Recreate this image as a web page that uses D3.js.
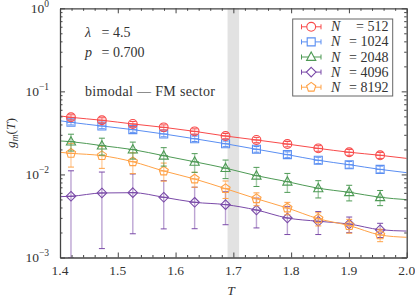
<!DOCTYPE html>
<meta charset="utf-8">
<style>
body { margin: 0; background: #fff; }
svg text { font-family: "Liberation Serif", "DejaVu Serif", serif; fill: #333; }
.axis line, .axis path { stroke: #444; }
</style>
<svg width="415" height="299"></svg>
<script src="https://cdn.jsdelivr.net/npm/d3@7"></script>
<script>
// temperatures of the simulated points
var temps = [1.419, 1.4725, 1.526, 1.5795, 1.633, 1.6865, 1.74, 1.7935, 1.847, 1.9005, 1.954];
var sizes = [512, 1024, 2048, 4096, 8192];

// g_m(T) per system size
var g512  = [0.0487, 0.0449, 0.0405, 0.0369, 0.0330, 0.0290, 0.0260, 0.0232, 0.0206, 0.0185, 0.0170];
var g1024 = [0.0424, 0.0383, 0.0346, 0.0307, 0.0269, 0.0234, 0.0201, 0.0173, 0.0148, 0.0131, 0.0115];
var g2048 = [0.0248, 0.0222, 0.0199, 0.0168, 0.0142, 0.0119, 0.00966, 0.00818, 0.00681, 0.00610, 0.00531];
var g4096 = [0.00546, 0.00598, 0.00603, 0.00531, 0.00462, 0.00433, 0.00373, 0.00299, 0.00273, 0.00253, 0.00216];
var g8192 = [0.01796, 0.01683, 0.01422, 0.01100, 0.00881, 0.00674, 0.00510, 0.00394, 0.00293, 0.00242, 0.00187];

// error bars
var e512  = [0.0035, 0.0032, 0.0029, 0.0026, 0.0024, 0.0021, 0.0019, 0.0017, 0.0016, 0.0015, 0.0014];
var e1024 = [0.0030, 0.0028, 0.0025, 0.0023, 0.0020, 0.0018, 0.0016, 0.0014, 0.0013, 0.0012, 0.0011];
var e2048 = [0.0057, 0.0051, 0.0046, 0.0042, 0.0036, 0.0030, 0.0025, 0.0021, 0.0016, 0.0013, 0.0011];
var e4096 = [0.0056, 0.0047, 0.0041, 0.0031, 0.0024, 0.00185, 0.00146, 0.0011, 0.00084, 0.00054, 0.00042];
var e8192 = [0.0057, 0.0050, 0.0040, 0.0027, 0.0018, 0.0016, 0.0009, 0.00067, 0.00053, 0.00046, 0.00032];

// fit curves at the plot edges (T = 1.4 and T = 2.0)
var fitLeft  = [0.0506, 0.0443, 0.0253, 0.0054, 0.01846];
var fitRight = [0.0156, 0.0105, 0.00497, 0.00208, 0.00175];

var colors = ["#f84a4a", "#5a8ef2", "#4e9a55", "#7a4aa8", "#ffa247"];
var shapes = ["circle", "square", "triangle", "diamond", "pentagon"];

var xTicks = [1.4, 1.5, 1.6, 1.7, 1.8, 1.9, 2.0];
var yTicks = [1, 0.1, 0.01, 0.001];
var yExps = ["0", "\u22121", "\u22122", "\u22123"];
var band = [1.69, 1.71];

var values = [g512, g1024, g2048, g4096, g8192];
var errors = [e512, e1024, e2048, e4096, e8192];

var svg = d3.select("svg");
var mLeft = 60, mRight = 406.7, mTop = 8.3, mBottom = 257.5;

var x = d3.scaleLinear().domain([1.4, 2.0]).range([mLeft, mRight]);
var y = d3.scaleLog().domain([1e-3, 1]).range([mBottom, mTop]).clamp(true);

svg.append("defs").append("clipPath").attr("id", "clip")
  .append("rect").attr("x", mLeft).attr("y", mTop).attr("width", mRight - mLeft).attr("height", mBottom - mTop);

// gray transition band
svg.append("rect")
    .attr("x", x(band[0])).attr("y", mTop)
    .attr("width", x(band[1]) - x(band[0])).attr("height", mBottom - mTop)
    .attr("fill", "#e2e2e2");

function marker(shape) {
  switch (shape) {
    case "circle": return "M4.4,0A4.4,4.4 0 1,1 -4.4,0A4.4,4.4 0 1,1 4.4,0Z";
    case "square": return "M-4,-4H4V4H-4Z";
    case "triangle": return "M0,-5L4.6,3.4H-4.6Z";
    case "diamond": return "M0,-4.8L4.8,0L0,4.8L-4.8,0Z";
    case "pentagon": return d3.range(5).map(function(i) {
        var a = -Math.PI / 2 + i * 2 * Math.PI / 5;
        return (i ? "L" : "M") + (4.8 * Math.cos(a)).toFixed(2) + "," + (4.8 * Math.sin(a)).toFixed(2);
      }).join("") + "Z";
  }
}

var line = d3.line()
    .x(function(d) { return x(d[0]); })
    .y(function(d) { return y(d[1]); })
    .curve(d3.curveMonotoneX);

var plot = svg.append("g").attr("clip-path", "url(#clip)");

// draw back to front so red ends on top
[3, 4, 2, 1, 0].forEach(function(s) {
  var pts = temps.map(function(t, i) { return [t, values[s][i], errors[s][i]]; });
  var g = plot.append("g");
  g.append("path")
      .attr("d", line([[1.4, fitLeft[s]]].concat(pts, [[2.0, fitRight[s]]])))
      .attr("fill", "none").attr("stroke", colors[s]).attr("stroke-width", 1);

  var eb = g.selectAll(".eb").data(pts).enter().append("g");
  eb.append("line")
      .attr("x1", function(d) { return x(d[0]); }).attr("x2", function(d) { return x(d[0]); })
      .attr("y1", function(d) { return y(Math.max(d[1] - d[2], 1e-4)); })
      .attr("y2", function(d) { return y(d[1] + d[2]); })
      .attr("stroke", colors[s]).attr("stroke-opacity", 0.5).attr("stroke-width", 1.4);
  [-1, 1].forEach(function(sg) {
    eb.append("line")
        .attr("x1", function(d) { return x(d[0]) - 3; }).attr("x2", function(d) { return x(d[0]) + 3; })
        .attr("y1", function(d) { return y(Math.max(d[1] + sg * d[2], 1e-4)); })
        .attr("y2", function(d) { return y(Math.max(d[1] + sg * d[2], 1e-4)); })
        .attr("stroke", colors[s]).attr("stroke-width", 1);
  });
  eb.append("line")
      .attr("x1", function(d) { return x(d[0]) - 4.4; }).attr("x2", function(d) { return x(d[0]) + 4.4; })
      .attr("y1", function(d) { return y(d[1]); }).attr("y2", function(d) { return y(d[1]); })
      .attr("stroke", colors[s]).attr("stroke-width", 1);
  eb.append("path")
      .attr("d", marker(shapes[s]))
      .attr("transform", function(d) { return "translate(" + x(d[0]) + "," + y(d[1]) + ")"; })
      .attr("fill", "none").attr("stroke", colors[s]).attr("stroke-width", 1.1);
});

// axes with inward ticks on all sides
var minorX = d3.range(1.42, 2.0, 0.02).filter(function(v) { return Math.abs(v * 10 - Math.round(v * 10)) > 1e-6; });
var minorY = [];
[0.001, 0.01, 0.1].forEach(function(d) { for (var k = 2; k < 10; k++) minorY.push(d * k); });

function addAxis(gen, tr) {
  var a = svg.append("g").attr("class", "axis").attr("transform", tr);
  a.call(gen);
  a.selectAll("text").remove();
  a.select(".domain").attr("stroke", "#444").attr("stroke-width", 1.3);
  return a;
}
addAxis(d3.axisBottom(x).tickValues(xTicks).tickSizeInner(-5).tickSizeOuter(0), "translate(0," + mBottom + ")");
addAxis(d3.axisBottom(x).tickValues(minorX).tickSizeInner(-2.5).tickSizeOuter(0), "translate(0," + mBottom + ")").select(".domain").remove();
addAxis(d3.axisTop(x).tickValues(xTicks).tickSizeInner(-5).tickSizeOuter(0), "translate(0," + mTop + ")");
addAxis(d3.axisTop(x).tickValues(minorX).tickSizeInner(-2.5).tickSizeOuter(0), "translate(0," + mTop + ")").select(".domain").remove();
addAxis(d3.axisLeft(y).tickValues(yTicks).tickSizeInner(-5).tickSizeOuter(0), "translate(" + mLeft + ",0)");
addAxis(d3.axisLeft(y).tickValues(minorY).tickSizeInner(-2.5).tickSizeOuter(0), "translate(" + mLeft + ",0)").select(".domain").remove();
addAxis(d3.axisRight(y).tickValues(yTicks).tickSizeInner(-5).tickSizeOuter(0), "translate(" + mRight + ",0)");
addAxis(d3.axisRight(y).tickValues(minorY).tickSizeInner(-2.5).tickSizeOuter(0), "translate(" + mRight + ",0)").select(".domain").remove();

// tick labels
svg.selectAll(".xl").data(xTicks).enter().append("text")
    .attr("x", function(d) { return x(d); }).attr("y", 275)
    .attr("text-anchor", "middle").attr("font-size", 13.5)
    .text(function(d) { return d.toFixed(1); });

var yl = svg.selectAll(".yl").data(yTicks).enter().append("text")
    .attr("x", 49).attr("y", function(d) { return y(d) + 4.5; })
    .attr("text-anchor", "end").attr("font-size", 13.5);
yl.append("tspan").text("10");
yl.append("tspan").attr("dy", -6).attr("font-size", 9.5).text(function(d, i) { return yExps[i]; });

// axis titles
svg.append("text").attr("x", 231).attr("y", 295).attr("text-anchor", "middle")
    .attr("font-size", 13.5).attr("font-style", "italic").text("T");
var yt = svg.append("text").attr("transform", "translate(15,133) rotate(-90)")
    .attr("text-anchor", "middle").attr("font-size", 13.5);
yt.append("tspan").attr("font-style", "italic").text("g");
yt.append("tspan").attr("font-style", "italic").attr("font-size", 9.5).attr("dy", 3).text("m");
yt.append("tspan").attr("dy", -3).text("(");
yt.append("tspan").attr("font-style", "italic").text("T");
yt.append("tspan").text(")");

// annotations
svg.append("text").attr("x", 85).attr("y", 36.5).attr("font-size", 14).attr("font-style", "italic").text("\u03bb");
svg.append("text").attr("x", 101.5).attr("y", 36.5).attr("font-size", 14).text("= 4.5");
svg.append("text").attr("x", 85).attr("y", 56.5).attr("font-size", 14).attr("font-style", "italic").text("p");
svg.append("text").attr("x", 101.5).attr("y", 56.5).attr("font-size", 14).text("= 0.700");
svg.append("text").attr("x", 85).attr("y", 96).attr("font-size", 14)
    .attr("textLength", 130).attr("lengthAdjust", "spacing").text("bimodal \u2014 FM sector");

// legend
var lg = svg.append("g");
lg.append("rect").attr("x", 292.7).attr("y", 19).attr("width", 100).attr("height", 77)
    .attr("fill", "#fff").attr("stroke", "#666").attr("stroke-width", 1);
sizes.forEach(function(n, i) {
  var cy = 26.8 + i * 15.1;
  var c = colors[i];
  lg.append("line").attr("x1", 301.5).attr("x2", 321).attr("y1", cy).attr("y2", cy).attr("stroke", c);
  lg.append("line").attr("x1", 301.5).attr("x2", 301.5).attr("y1", cy - 2.5).attr("y2", cy + 2.5).attr("stroke", c);
  lg.append("line").attr("x1", 321).attr("x2", 321).attr("y1", cy - 2.5).attr("y2", cy + 2.5).attr("stroke", c);
  lg.append("path").attr("d", marker(shapes[i])).attr("transform", "translate(311.2," + cy + ")")
      .attr("fill", "#fff").attr("stroke", c).attr("stroke-width", 1.1);
  lg.append("text").attr("x", 331).attr("y", cy + 4.5).attr("font-size", 14).attr("font-style", "italic").text("N");
  lg.append("text").attr("x", 388.5).attr("y", cy + 4.5).attr("font-size", 14).attr("text-anchor", "end")
      .attr("xml:space", "preserve").text("= " + n);
});
</script>
